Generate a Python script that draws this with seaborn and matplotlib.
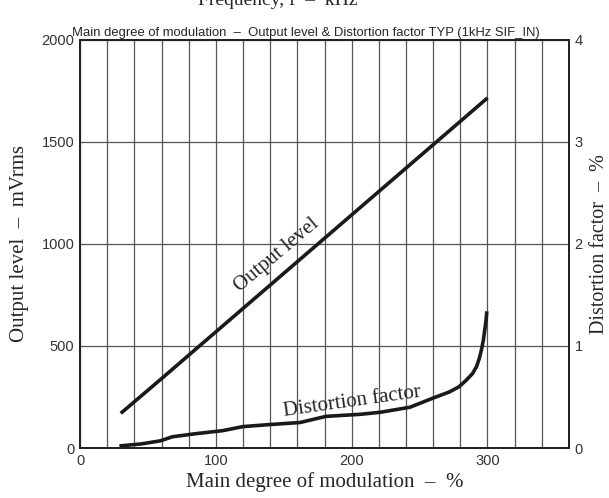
import matplotlib
matplotlib.use("Agg")
import matplotlib.pyplot as plt
import seaborn as sns
import pandas as pd

# output level (mVrms) vs main degree of modulation (%)
mod_out = [30, 60, 90, 120, 150, 180, 210, 240, 270, 300]
output_level = [170, 340, 512, 684, 856, 1028, 1200, 1372, 1544, 1716]

# distortion factor (%) vs main degree of modulation (%)
mod_dist = [29, 45, 59, 68, 85, 105, 120, 140, 162, 181, 206, 221, 243, 260, 272, 279,
            284, 289, 292, 294, 295.5, 297, 298, 299, 299.5]
distortion = [0.02, 0.04, 0.07, 0.11, 0.14, 0.17, 0.21, 0.23, 0.25, 0.31, 0.33, 0.35, 0.40, 0.49, 0.55, 0.60,
              0.66, 0.73, 0.80, 0.88, 0.96, 1.06, 1.16, 1.26, 1.34]

sns.set_style("white")
plt.rcParams['font.family'] = ['Liberation Sans', 'DejaVu Sans']

serif = ['Liberation Serif', 'DejaVu Serif']
tick_col = '#333333'

fig = plt.figure(figsize=(6.09, 4.98), dpi=100)
ax = fig.add_axes([0.1314, 0.1004, 0.8029, 0.8193])
ax2 = ax.twinx()

df_out = pd.DataFrame({"mod": mod_out, "level": output_level})
df_dist = pd.DataFrame({"mod": mod_dist, "dist": distortion})

sns.lineplot(data=df_out, x="mod", y="level", ax=ax, color='#1a1a1a', lw=2.6,
             solid_capstyle='butt')
sns.lineplot(data=df_dist, x="mod", y="dist", ax=ax2, color='#1a1a1a', lw=2.6,
             solid_joinstyle='round', solid_capstyle='butt')

ax.set_xlim(0, 360)
ax.set_ylim(0, 2000)
ax2.set_ylim(0, 4)
ax.set_xticks(range(0, 361, 20), minor=True)
ax.set_xticks([0, 100, 200, 300])
ax.set_yticks([0, 500, 1000, 1500, 2000])
ax2.set_yticks([0, 1, 2, 3, 4])
ax.grid(True, which='both', color='#555555', lw=0.9)
ax.tick_params(which='both', length=0, labelsize=10.5, labelcolor=tick_col, pad=4)
ax2.tick_params(length=0, labelsize=10.5, labelcolor=tick_col, pad=4)
for a in (ax, ax2):
    for s in a.spines.values():
        s.set_color('#222222')
        s.set_linewidth(1.3)

ax.set_xlabel("Main degree of modulation  \u2013  %", family=serif, fontsize=15, labelpad=3)
ax.set_ylabel("Output level  \u2013  mVrms", family=serif, fontsize=15, labelpad=9)
ax2.set_ylabel("Distortion factor  \u2013  %", family=serif, fontsize=14.5, labelpad=5)

ax.set_title("Main degree of modulation  \u2013  Output level & Distortion factor TYP (1kHz SIF_IN)",
             fontsize=9.4, pad=3, x=0.462)
fig.text(0.456, 1 - 5 / 498, "Frequency, f  \u2013  kHz", family=serif, fontsize=14,
         ha='center', va='baseline')

ax.text(145, 945, "Output level", family=serif, fontsize=15, rotation=40,
        ha='center', va='center', rotation_mode='anchor')
ax2.text(200, 0.45, "Distortion factor", family=serif, fontsize=15, rotation=8,
         ha='center', va='center', rotation_mode='anchor')

fig.savefig("out.png", dpi=100)
